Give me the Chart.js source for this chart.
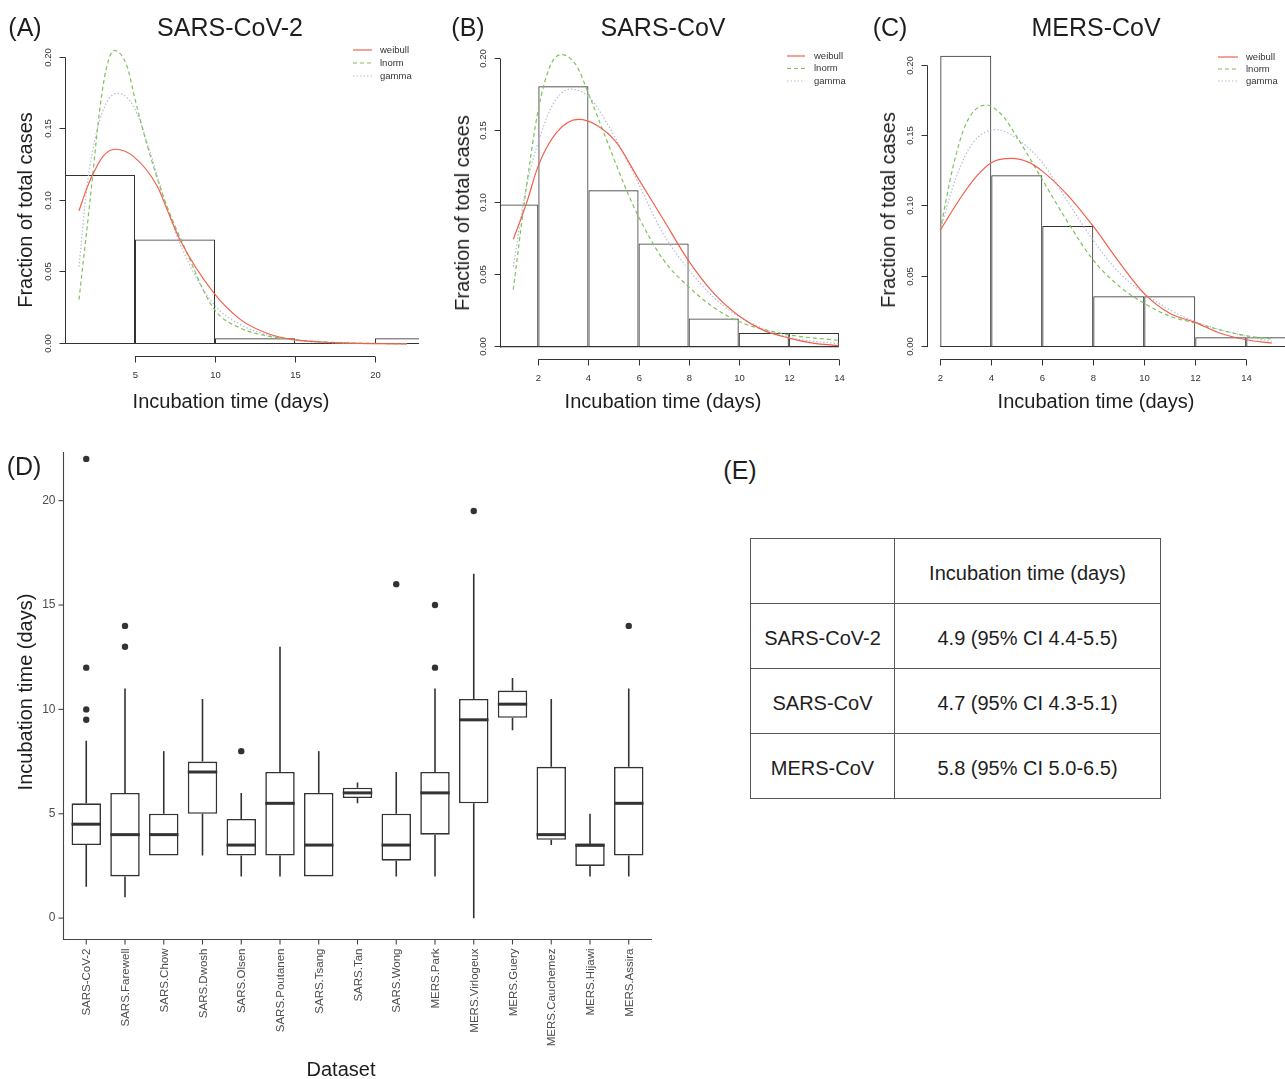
<!DOCTYPE html>
<html><head><meta charset="utf-8">
<script src="https://cdn.jsdelivr.net/npm/chart.js@4.4.1/dist/chart.umd.min.js"></script>
<style>
body{margin:0;background:#fff;width:1285px;height:1079px;position:relative;overflow:hidden;font-family:"Liberation Sans",Arial,sans-serif;color:#1e1e1e}
canvas{position:absolute}
.t{position:absolute;white-space:nowrap;line-height:1;transform:translate(-50%,-50%)}
.r{transform:translate(-50%,-50%) rotate(-90deg)}
#tbl{position:absolute;left:750px;top:538px;border-collapse:collapse;font-size:20px;color:#1e1e1e}
#tbl td{border:1.5px solid #555;text-align:center;vertical-align:middle;padding:4px 0 0 0;height:60px}
</style></head><body>

<canvas id="ca" width="430" height="420" style="left:0;top:0"></canvas>
<canvas id="cb" width="430" height="420" style="left:430px;top:0"></canvas>
<canvas id="cc" width="425" height="420" style="left:860px;top:0"></canvas>
<canvas id="cd" width="660" height="639" style="left:0;top:440px"></canvas>

<div class="t" style="left:25px;top:27px;font-size:25px">(A)</div>
<div class="t" style="left:230px;top:27px;font-size:25px">SARS-CoV-2</div>
<div class="t" style="left:468px;top:27px;font-size:25px">(B)</div>
<div class="t" style="left:663px;top:27px;font-size:25px">SARS-CoV</div>
<div class="t" style="left:890px;top:27px;font-size:25px">(C)</div>
<div class="t" style="left:1096px;top:27px;font-size:25px">MERS-CoV</div>

<div class="t r" style="left:25px;top:210px;font-size:20px">Fraction of total cases</div>
<div class="t r" style="left:462px;top:213px;font-size:20px">Fraction of total cases</div>
<div class="t r" style="left:888px;top:210px;font-size:20px">Fraction of total cases</div>
<div class="t" style="left:231px;top:401px;font-size:20px">Incubation time (days)</div>
<div class="t" style="left:663px;top:401px;font-size:20px">Incubation time (days)</div>
<div class="t" style="left:1096px;top:401px;font-size:20px">Incubation time (days)</div>

<div class="t" style="left:24px;top:466px;font-size:25px">(D)</div>
<div class="t r" style="left:25px;top:692px;font-size:20px">Incubation time (days)</div>
<div class="t" style="left:341px;top:1069px;font-size:20px">Dataset</div>

<div class="t" style="left:740px;top:470px;font-size:25px">(E)</div>
<table id="tbl"></table>

<script>
// ---------------- DATA ----------------
// Panel A: SARS-CoV-2 histogram (bin mid-points, fraction of cases)
const aBinMid  = [2.5, 7.5, 12.5, 17.5, 22.5];
const aBinFrac = [0.118, 0.073, 0.004, 0, 0.004];
const aWeibull = [[1.5,0.093],[2.0,0.109],[2.3,0.117],[3.0,0.131],[3.75,0.136],[4.9,0.131],[6.4,0.110],[7.0,0.094],[7.8,0.073],[9.9,0.036],[11.6,0.017],[13.2,0.0077],[14.9,0.003],[17.4,0.001],[22,0.0001]];
const aLnorm   = [[1.5,0.031],[2.2,0.101],[2.8,0.164],[3.2,0.192],[3.7,0.205],[4.5,0.194],[5.0,0.171],[5.73,0.140],[6.77,0.103],[8.23,0.064],[9.9,0.025],[11.6,0.011],[13.2,0.0058],[15.3,0.0026],[18.4,0.0007],[22,0.0002]];
const aGamma   = [[1.5,0.054],[2.0,0.110],[2.6,0.148],[3.3,0.170],[3.95,0.175],[5.0,0.164],[6.0,0.132],[7.0,0.095],[8.0,0.065],[9.9,0.028],[11.6,0.0135],[13.2,0.0065],[15.3,0.0022],[18.4,0.0005],[22,0.0001]];
const aXTicks  = [5, 10, 15, 20];

// Panel B: SARS-CoV
const bBinMid  = [1, 3, 5, 7, 9, 11, 13];
const bBinFrac = [0.099, 0.181, 0.109, 0.072, 0.020, 0.010, 0.010];
const bWeibull = [[1.0,0.075],[1.53,0.100],[2.0,0.126],[2.73,0.149],[3.6,0.158],[4.33,0.154],[5.12,0.142],[5.99,0.117],[6.98,0.089],[8.0,0.060],[8.98,0.038],[10.0,0.022],[10.97,0.012],[12.0,0.0065],[12.96,0.003],[14.0,0.0012]];
const bLnorm   = [[1.0,0.040],[1.53,0.112],[2.0,0.165],[2.47,0.195],[2.93,0.203],[3.53,0.195],[4.0,0.176],[4.72,0.144],[5.52,0.109],[5.99,0.091],[6.98,0.061],[8.0,0.042],[8.98,0.028],[10.0,0.018],[12.0,0.0088],[14.0,0.0049]];
const bGamma   = [[1.0,0.056],[1.53,0.112],[2.07,0.146],[2.6,0.169],[3.26,0.179],[4.0,0.174],[4.72,0.156],[5.65,0.126],[6.98,0.079],[8.0,0.054],[8.98,0.035],[10.0,0.0215],[12.0,0.0072],[14.0,0.0025]];
const bXTicks  = [2, 4, 6, 8, 10, 12, 14];

// Panel C: MERS-CoV
const cBinMid  = [3, 5, 7, 9, 11, 13, 15];
const cBinFrac = [0.207, 0.122, 0.086, 0.036, 0.036, 0.007, 0.007];
const cWeibull = [[2.0,0.083],[2.76,0.105],[3.41,0.121],[4.0,0.131],[4.78,0.134],[5.5,0.131],[6.0,0.125],[6.94,0.109],[7.99,0.086],[9.03,0.060],[10.0,0.038],[11.0,0.024],[12.0,0.0175],[12.95,0.010],[14.0,0.0052],[15.0,0.0028]];
const cLnorm   = [[2.0,0.083],[2.5,0.128],[3.02,0.159],[3.8,0.172],[4.46,0.164],[4.98,0.150],[6.0,0.119],[6.94,0.0905],[7.99,0.062],[9.03,0.043],[10.0,0.031],[11.0,0.022],[12.0,0.017],[12.95,0.0123],[14.0,0.008],[15.0,0.0057]];
const cGamma   = [[2.0,0.083],[2.63,0.121],[3.28,0.145],[4.2,0.1545],[4.85,0.150],[6.0,0.131],[6.94,0.105],[7.99,0.076],[9.03,0.0526],[10.0,0.038],[11.0,0.0265],[12.0,0.018],[14.0,0.0076],[15.0,0.004]];
const cXTicks  = [2, 4, 6, 8, 10, 12, 14];

const histYTicks = [0, 0.05, 0.10, 0.15, 0.20];
const fitNames = ['weibull', 'lnorm', 'gamma'];

// Panel D: box plots
const dLabels = ["SARS-CoV-2","SARS.Farewell","SARS.Chow","SARS.Dwosh","SARS.Olsen","SARS.Poutanen","SARS.Tsang","SARS.Tan","SARS.Wong","MERS.Park","MERS.Virlogeux","MERS.Guery","MERS.Cauchemez","MERS.Hijawi","MERS.Assira"];
const dLow  = [1.5, 1, 3, 3, 2, 2, 2, 5.5, 2, 2, 0, 9, 3.5, 2, 2];
const dQ1   = [3.5, 2, 3, 5, 3, 3, 2, 5.75, 2.75, 4, 5.5, 9.6, 3.75, 2.5, 3];
const dMed  = [4.5, 4, 4, 7, 3.5, 5.5, 3.5, 6, 3.5, 6, 9.5, 10.25, 4, 3.5, 5.5];
const dQ3   = [5.5, 6, 5, 7.5, 4.75, 7, 6, 6.25, 5, 7, 10.5, 10.9, 7.25, 3.5, 7.25];
const dHigh = [8.5, 11, 8, 10.5, 6, 13, 8, 6.5, 7, 11, 16.5, 11.5, 10.5, 5, 11];
const dOutliers = [[22,12,10,9.5],[14,13],[],[],[8],[],[],[],[16],[15,12],[19.5],[],[],[],[14]];
const dYTicks = [0, 5, 10, 15, 20];

// Panel E: table
const tRows  = ["SARS-CoV-2", "SARS-CoV", "MERS-CoV"];
const tMean  = [4.9, 4.7, 5.8];
const tCILo  = [4.4, 4.3, 5.0];
const tCIHi  = [5.5, 5.1, 6.5];

// ---------------- STYLE ----------------
const FONT = '"Liberation Sans", Arial, sans-serif';
const INK = '#333';
const fitStyles = [
  {color:'#f2604c', dash:[]},
  {color:'#7cc35c', dash:[4,3]},
  {color:'#b6bcda', dash:[1.5,2]}
];

function histPlugin(o){
  return {
    id:'rHist',
    beforeDatasetsDraw(chart){
      const {ctx, chartArea:a, scales:{x,y}} = chart;
      const mids = o.mids, w = mids[1]-mids[0];
      const x0 = Math.max(a.left, x.getPixelForValue(mids[0]-w/2));
      const x1 = Math.min(a.right, x.getPixelForValue(mids[mids.length-1]+w/2));
      const yb = Math.round(y.getPixelForValue(0))-0.5;
      ctx.save(); ctx.strokeStyle=INK; ctx.lineWidth=1;
      ctx.beginPath(); ctx.moveTo(x0,yb); ctx.lineTo(x1,yb); ctx.stroke(); ctx.restore();
    },
    afterDraw(chart){
      const {ctx, chartArea:a, scales:{x,y}} = chart;
      ctx.save();
      ctx.strokeStyle=INK; ctx.fillStyle='#333'; ctx.lineWidth=1;
      // y axis
      const yt = o.yTicks;
      const lx = Math.round(a.left)+0.5;
      ctx.beginPath(); ctx.moveTo(lx, y.getPixelForValue(yt[0])); ctx.lineTo(lx, y.getPixelForValue(yt[yt.length-1])); ctx.stroke();
      ctx.font = '9.5px '+FONT; ctx.textAlign='center'; ctx.textBaseline='middle';
      yt.forEach(v=>{
        const py = Math.round(y.getPixelForValue(v))-0.5;
        ctx.beginPath(); ctx.moveTo(lx-6,py); ctx.lineTo(lx,py); ctx.stroke();
        ctx.save(); ctx.translate(lx-17.5, py); ctx.rotate(-Math.PI/2); ctx.fillText(v.toFixed(2),0,0); ctx.restore();
      });
      // x axis
      const xt = o.xTicks;
      const by = Math.round(a.bottom)+0.5;
      ctx.beginPath(); ctx.moveTo(x.getPixelForValue(xt[0]), by); ctx.lineTo(x.getPixelForValue(xt[xt.length-1]), by); ctx.stroke();
      xt.forEach(v=>{
        const px = Math.round(x.getPixelForValue(v))+0.5;
        ctx.beginPath(); ctx.moveTo(px,by); ctx.lineTo(px,by+6); ctx.stroke();
        ctx.fillText(String(v), px, by+19);
      });
      // legend
      const L = o.legend;
      ctx.textAlign='left'; ctx.font='9.5px '+FONT;
      chart.data.datasets.filter(d=>d.type==='line').forEach((d,i)=>{
        const ly = L.y + i*L.dy;
        ctx.save(); ctx.strokeStyle=d.borderColor; ctx.lineWidth=1.2; ctx.setLineDash(d.borderDash||[]);
        ctx.beginPath(); ctx.moveTo(L.x0, ly); ctx.lineTo(L.x1, ly); ctx.stroke(); ctx.restore();
        ctx.fillStyle='#333'; ctx.fillText(d.label, L.tx, ly);
      });
      ctx.restore();
    }
  };
}

function makeHist(id, mids, fracs, fits, xTicks, xr, yr, pad, legend){
  const datasets = fits.map((f,i)=>({
    type:'line', label:fitNames[i], data:f.map(p=>({x:p[0], y:p[1]})),
    borderColor:fitStyles[i].color, borderDash:fitStyles[i].dash, borderWidth:1.2,
    pointRadius:0, fill:false, cubicInterpolationMode:'monotone', order:0
  }));
  datasets.push({
    type:'bar', label:'hist', data:mids.map((m,i)=>({x:m, y:fracs[i]})),
    backgroundColor:'rgba(255,255,255,0)', borderColor:INK,
    borderWidth:1, inflateAmount:0,
    borderSkipped:false, barPercentage:1, categoryPercentage:1, order:1
  });
  new Chart(document.getElementById(id), {
    type:'bar',
    data:{datasets},
    options:{
      responsive:false, animation:false, devicePixelRatio:1,
      layout:{padding:pad},
      plugins:{legend:{display:false}, tooltip:{enabled:false}, title:{display:false}},
      scales:{
        x:{type:'linear', display:false, offset:false, min:xr[0], max:xr[1],
           afterBuildTicks:(s)=>{ s.ticks = mids.map(v=>({value:v})); }},
        y:{type:'linear', display:false, min:yr[0], max:yr[1]}
      }
    },
    plugins:[histPlugin({mids, xTicks, yTicks:histYTicks, legend})]
  });
}

makeHist('ca', aBinMid, aBinFrac, [aWeibull,aLnorm,aGamma], aXTicks, [0.625,22.75], [-0.0084,0.213],
  {left:65,right:11,top:39,bottom:64}, {x0:353,x1:372,tx:380,y:50,dy:13});
makeHist('cb', bBinMid, bBinFrac, [bWeibull,bLnorm,bGamma], bXTicks, [0.47,14.52], [-0.008,0.211],
  {left:70,right:8,top:43,bottom:61}, {x0:357,x1:375,tx:384,y:56,dy:12.5});
makeHist('cc', cBinMid, cBinFrac, [cWeibull,cLnorm,cGamma], cXTicks, [1.48,15.52], [-0.0085,0.2153],
  {left:67,right:0,top:44,bottom:61}, {x0:358,x1:378,tx:386,y:57,dy:12});

// ---------------- Panel D ----------------
const BOXW = 0.76;
const boxPlugin = {
  id:'boxParts',
  beforeDatasetsDraw(chart){
    const {ctx, scales:{x,y}} = chart;
    ctx.save(); ctx.strokeStyle='#333'; ctx.lineWidth=1.6;
    dLabels.forEach((_,i)=>{
      const px = x.getPixelForValue(i);
      ctx.beginPath();
      ctx.moveTo(px, y.getPixelForValue(dLow[i])); ctx.lineTo(px, y.getPixelForValue(dQ1[i]));
      ctx.moveTo(px, y.getPixelForValue(dQ3[i])); ctx.lineTo(px, y.getPixelForValue(dHigh[i]));
      ctx.stroke();
    });
    ctx.restore();
  },
  afterDatasetsDraw(chart){
    const {ctx, scales:{x,y}} = chart;
    ctx.save(); ctx.strokeStyle='#333'; ctx.lineWidth=3;
    dLabels.forEach((_,i)=>{
      const py = y.getPixelForValue(dMed[i]);
      ctx.beginPath(); ctx.moveTo(x.getPixelForValue(i-BOXW/2), py); ctx.lineTo(x.getPixelForValue(i+BOXW/2), py); ctx.stroke();
    });
    ctx.restore();
  },
  afterDraw(chart){
    const {ctx, chartArea:a, scales:{x,y}} = chart;
    ctx.save(); ctx.strokeStyle='#444'; ctx.lineWidth=1.1;
    const lx = Math.round(a.left)+0.5, by = Math.round(a.bottom)+0.5;
    ctx.beginPath(); ctx.moveTo(lx, a.top); ctx.lineTo(lx, by); ctx.lineTo(a.right, by); ctx.stroke();
    ctx.fillStyle='#4d4d4d'; ctx.font='12px '+FONT; ctx.textAlign='right'; ctx.textBaseline='middle';
    dYTicks.forEach(v=>{
      const py = y.getPixelForValue(v);
      ctx.beginPath(); ctx.moveTo(lx-5,py); ctx.lineTo(lx,py); ctx.stroke();
      ctx.fillText(String(v), lx-8, py);
    });
    ctx.font='11.5px '+FONT;
    dLabels.forEach((lab,i)=>{
      const px = x.getPixelForValue(i);
      ctx.beginPath(); ctx.moveTo(px,by); ctx.lineTo(px,by+5); ctx.stroke();
      ctx.save(); ctx.translate(px+1, by+9); ctx.rotate(-Math.PI/2); ctx.fillText(lab,0,0); ctx.restore();
    });
    ctx.restore();
  }
};

const outPts = [];
dOutliers.forEach((arr,i)=>arr.forEach(v=>outPts.push({x:i, y:v})));

new Chart(document.getElementById('cd'), {
  type:'bar',
  data:{datasets:[
    {type:'scatter', label:'outliers', data:outPts, pointRadius:3.2, pointBackgroundColor:'#333', pointBorderWidth:0, order:0},
    {type:'bar', label:'IQR', data:dLabels.map((_,i)=>({x:i, y:[dQ1[i], dQ3[i]]})),
     backgroundColor:'#ffffff', borderColor:'#333', borderWidth:1.6, borderSkipped:false, inflateAmount:0,
     barPercentage:BOXW, categoryPercentage:1, order:1}
  ]},
  options:{
    responsive:false, animation:false, devicePixelRatio:1,
    layout:{padding:{left:63,right:8,top:12,bottom:140}},
    plugins:{legend:{display:false}, tooltip:{enabled:false}},
    scales:{
      x:{type:'linear', display:false, offset:false, min:-0.6, max:14.6,
         afterBuildTicks:(s)=>{ s.ticks = dLabels.map((_,i)=>({value:i})); }},
      y:{type:'linear', display:false, min:-1, max:22.33}
    }
  },
  plugins:[boxPlugin]
});

// ---------------- Panel E ----------------
const tbl = document.getElementById('tbl');
let html = '<tr><td style="width:143px"></td><td style="width:265px">Incubation time (days)</td></tr>';
tRows.forEach((r,i)=>{
  html += '<tr><td>'+r+'</td><td>'+tMean[i].toFixed(1)+' (95% CI '+tCILo[i].toFixed(1)+'-'+tCIHi[i].toFixed(1)+')</td></tr>';
});
tbl.innerHTML = html;
</script>
</body></html>
